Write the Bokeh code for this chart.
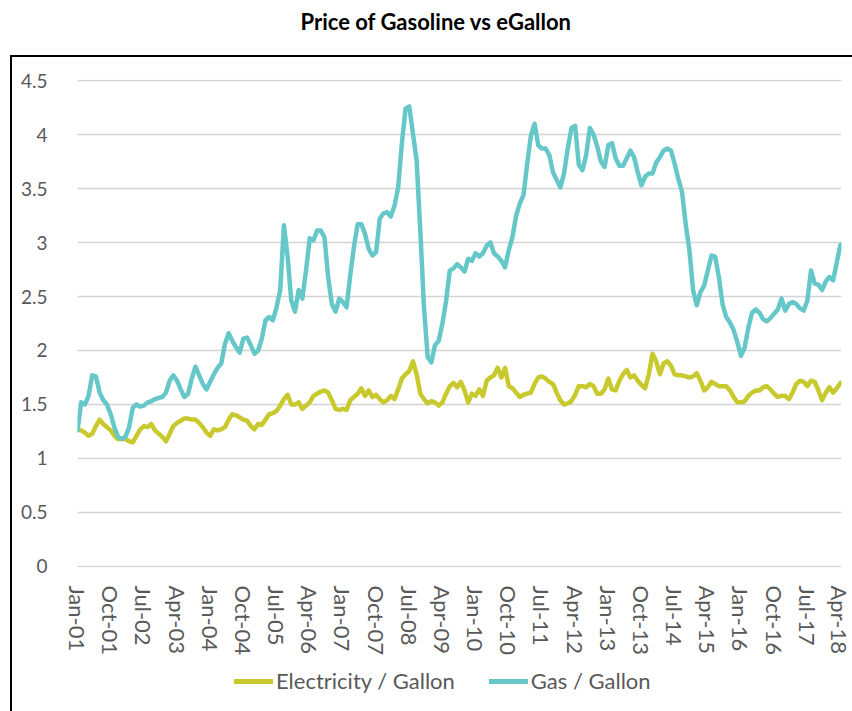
import pandas as pd
from bokeh.plotting import figure
from bokeh.models import Range1d, FixedTicker, NumeralTickFormatter, Legend, LegendItem
from bokeh.layouts import column
from bokeh.embed import file_html
from bokeh.resources import INLINE

title_text = "Price of Gasoline vs eGallon"
series_names = ["Electricity / Gallon", "Gas / Gallon"]

electricity = [
    1.27, 1.26, 1.24, 1.21, 1.23, 1.30, 1.36, 1.32, 1.29, 1.26, 1.21, 1.18,
    1.18, 1.18, 1.16, 1.15, 1.21, 1.27, 1.30, 1.29, 1.32, 1.26, 1.23, 1.20,
    1.16, 1.23, 1.30, 1.33, 1.35, 1.37, 1.37, 1.36, 1.36, 1.33, 1.29, 1.24,
    1.21, 1.27, 1.26, 1.27, 1.29, 1.36, 1.41, 1.40, 1.38, 1.36, 1.35, 1.30,
    1.27, 1.32, 1.31, 1.36, 1.41, 1.42, 1.44, 1.49, 1.55, 1.59, 1.50, 1.50,
    1.52, 1.46, 1.49, 1.52, 1.58, 1.60, 1.62, 1.63, 1.61, 1.54, 1.46, 1.45,
    1.46, 1.45, 1.54, 1.57, 1.60, 1.65, 1.58, 1.63, 1.57, 1.59, 1.55, 1.52,
    1.54, 1.58, 1.55, 1.64, 1.74, 1.78, 1.81, 1.90, 1.78, 1.60, 1.55, 1.51,
    1.53, 1.52, 1.49, 1.52, 1.60, 1.67, 1.70, 1.66, 1.71, 1.63, 1.52, 1.60,
    1.58, 1.64, 1.58, 1.72, 1.75, 1.77, 1.84, 1.75, 1.84, 1.67, 1.65, 1.61,
    1.57, 1.59, 1.60, 1.61, 1.69, 1.75, 1.76, 1.74, 1.71, 1.69, 1.61, 1.54,
    1.50, 1.51, 1.53, 1.59, 1.67, 1.67, 1.66, 1.69, 1.67, 1.60, 1.60, 1.64,
    1.74, 1.64, 1.63, 1.72, 1.78, 1.82, 1.75, 1.77, 1.72, 1.68, 1.65, 1.78,
    1.97, 1.90, 1.78, 1.88, 1.90, 1.86, 1.78, 1.77, 1.77, 1.76, 1.75, 1.76,
    1.79, 1.72, 1.63, 1.66, 1.71, 1.69, 1.67, 1.67, 1.67, 1.63, 1.57, 1.52,
    1.52, 1.53, 1.58, 1.61, 1.63, 1.63, 1.66, 1.67, 1.64, 1.60, 1.57, 1.58,
    1.58, 1.55, 1.61, 1.69, 1.72, 1.71, 1.67, 1.72, 1.71, 1.63, 1.54, 1.61,
    1.66, 1.61, 1.65, 1.70,
]

gas = [
    1.26, 1.52, 1.50, 1.58, 1.77, 1.76, 1.61, 1.54, 1.50, 1.41, 1.29, 1.20,
    1.18, 1.20, 1.29, 1.47, 1.50, 1.48, 1.49, 1.52, 1.53, 1.55, 1.56, 1.57,
    1.61, 1.72, 1.77, 1.72, 1.64, 1.57, 1.60, 1.74, 1.85, 1.77, 1.69, 1.64,
    1.71, 1.78, 1.84, 1.88, 2.06, 2.16, 2.09, 2.03, 1.98, 2.11, 2.12, 2.05,
    1.97, 2.00, 2.11, 2.28, 2.31, 2.28, 2.40, 2.56, 3.16, 2.87, 2.46, 2.36,
    2.56, 2.48, 2.74, 3.04, 3.02, 3.11, 3.11, 3.05, 2.68, 2.43, 2.36, 2.48,
    2.45, 2.40, 2.70, 2.96, 3.17, 3.17, 3.08, 2.94, 2.88, 2.91, 3.22, 3.27,
    3.28, 3.24, 3.34, 3.51, 3.92, 4.24, 4.26, 4.01, 3.76, 3.11, 2.40, 1.94,
    1.89, 2.05, 2.09, 2.25, 2.46, 2.74, 2.76, 2.80, 2.77, 2.73, 2.85, 2.83,
    2.90, 2.87, 2.90, 2.97, 3.00, 2.90, 2.87, 2.83, 2.77, 2.93, 3.05, 3.25,
    3.36, 3.44, 3.73, 3.99, 4.10, 3.90, 3.87, 3.87, 3.81, 3.65, 3.58, 3.51,
    3.64, 3.87, 4.06, 4.08, 3.72, 3.67, 3.81, 4.06, 4.00, 3.89, 3.75, 3.70,
    3.90, 3.92, 3.78, 3.71, 3.71, 3.78, 3.85, 3.79, 3.65, 3.53, 3.61, 3.64,
    3.64, 3.74, 3.79, 3.85, 3.87, 3.85, 3.73, 3.59, 3.47, 3.17, 2.93, 2.56,
    2.42, 2.54, 2.60, 2.74, 2.88, 2.87, 2.68, 2.43, 2.31, 2.26, 2.19, 2.08,
    1.95, 2.03, 2.21, 2.35, 2.38, 2.35, 2.29, 2.27, 2.30, 2.34, 2.38, 2.48,
    2.37, 2.43, 2.45, 2.43, 2.39, 2.37, 2.46, 2.74, 2.62, 2.61, 2.56, 2.64,
    2.68, 2.65, 2.82, 2.98,
]

x_tick_labels = [
    "Jan-01", "Oct-01", "Jul-02", "Apr-03", "Jan-04", "Oct-04", "Jul-05", "Apr-06",
    "Jan-07", "Oct-07", "Jul-08", "Apr-09", "Jan-10", "Oct-10", "Jul-11", "Apr-12",
    "Jan-13", "Oct-13", "Jul-14", "Apr-15", "Jan-16", "Oct-16", "Jul-17", "Apr-18",
]
y_ticks = [0, 0.5, 1, 1.5, 2, 2.5, 3, 3.5, 4, 4.5]

months = list(pd.date_range("2001-01-01", periods=len(gas), freq="MS").strftime("%b-%y"))
x = list(range(len(months)))
x_ticks = [i for i, m in enumerate(months) if m in x_tick_labels]

FONT = "Lato"
LABEL_COLOR = "#595959"
ELEC_COLOR = "#C8C92C"
GAS_COLOR = "#66C7C9"
LINE_W = 4.5

# ---- title strip (outside the bordered chart area)
pt = figure(width=852, height=55, toolbar_location=None, output_backend="svg",
            x_axis_location=None, y_axis_location=None, min_border=0,
            title=title_text)
pt.grid.visible = False
pt.outline_line_color = None
pt.title.text_font = FONT
pt.title.text_font_size = "22px"
pt.title.text_font_style = "bold"
pt.title.text_color = "#000000"
pt.title.align = "left"
pt.title.offset = 300

# ---- main chart
n = len(months)
p = figure(width=840, height=610, toolbar_location=None, output_backend="svg",
           x_range=Range1d(0, n - 1 + 0.27), y_range=Range1d(-0.0093, 4.5093),
           min_border_left=65, min_border_right=11, min_border_top=22, min_border_bottom=100)
p.outline_line_color = None

p.line(x, electricity, line_color=ELEC_COLOR, line_width=LINE_W,
       line_join="round", line_cap="round")
p.line(x, gas, line_color=GAS_COLOR, line_width=LINE_W,
       line_join="round", line_cap="round")

p.xgrid.grid_line_color = None
p.ygrid.ticker = FixedTicker(ticks=y_ticks)
p.ygrid.grid_line_color = "#d4d4d4"
p.ygrid.grid_line_width = 1.5

p.yaxis.ticker = FixedTicker(ticks=y_ticks)
p.yaxis.formatter = NumeralTickFormatter(format="0.[0]")
p.yaxis.axis_line_color = None
p.yaxis.major_tick_line_color = None
p.yaxis.minor_tick_line_color = None
p.yaxis.major_label_standoff = 24
p.yaxis.major_label_text_font = FONT
p.yaxis.major_label_text_font_size = "19px"
p.yaxis.major_label_text_color = LABEL_COLOR

p.xaxis.ticker = FixedTicker(ticks=x_ticks)
p.xaxis.major_label_overrides = {i: months[i] for i in x_ticks}
p.xaxis.axis_line_color = None
p.xaxis.major_tick_line_color = None
p.xaxis.minor_tick_line_color = None
p.xaxis.major_label_orientation = "vertical"
p.xaxis.major_label_standoff = 12
p.xaxis.major_label_text_font = FONT
p.xaxis.major_label_text_font_size = "22px"
p.xaxis.major_label_text_color = LABEL_COLOR

# ---- legend strip (same series, plotted outside its visible range)
pl = figure(width=840, height=44, toolbar_location=None, output_backend="svg",
            x_axis_location=None, y_axis_location=None, min_border=0,
            x_range=Range1d(1000, 1001), y_range=Range1d(1000, 1001))
pl.grid.visible = False
pl.outline_line_color = None
le = pl.line(x, electricity, line_color=ELEC_COLOR, line_width=5, line_cap="round")
lg = pl.line(x, gas, line_color=GAS_COLOR, line_width=5, line_cap="round")
legend = Legend(items=[LegendItem(label=series_names[0], renderers=[le]),
                       LegendItem(label=series_names[1], renderers=[lg])],
                orientation="horizontal", location=(157, 17),
                border_line_color=None, background_fill_alpha=0,
                padding=0, margin=0, spacing=34, glyph_width=39, glyph_height=20,
                label_standoff=3, label_text_font=FONT, label_text_font_size="22px",
                label_text_color=LABEL_COLOR)
pl.add_layout(legend)

chart = column(p, pl, margin=(0, 0, 0, 10),
               styles={"border-left": "2px solid #000000", "border-top": "2px solid #000000"})
layout = column(pt, chart)
open("out.html", "w").write(file_html(layout, INLINE))
